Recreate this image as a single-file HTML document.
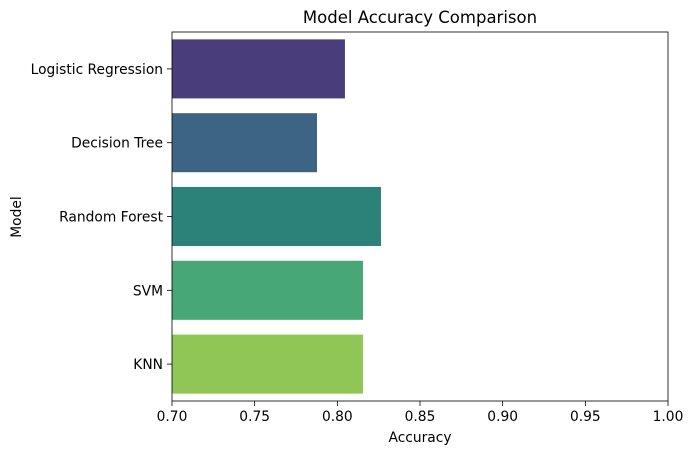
<!DOCTYPE html>
<html><head><meta charset="utf-8"><style>
body{margin:0;background:#fff;}
svg text{font-family:"DejaVu Sans","Liberation Sans",sans-serif;fill:#000;}
</style></head><body>
<svg id="chart" width="693" height="455" xmlns="http://www.w3.org/2000/svg">
<text x="420" y="23" font-size="16.5" text-anchor="middle">Model Accuracy Comparison</text>
<text x="420" y="442" font-size="13.8" text-anchor="middle">Accuracy</text>
<text x="21" y="217" font-size="13.8" text-anchor="middle" transform="rotate(-90 21 217)">Model</text>
<g id="bars"></g><g id="axes"></g>
</svg>
<script>
const categories=["Logistic Regression","Decision Tree","Random Forest","SVM","KNN"];
const accuracy=[0.8046,0.7877,0.8264,0.8155,0.8155];
const colors=["#493d7c","#3d6483","#2c8279","#47a776","#8fc655"];
const xTicks=[0.70,0.75,0.80,0.85,0.90,0.95,1.00];
const NS="http://www.w3.org/2000/svg";
const L=172,R=668,T=32,B=401,xmin=0.7,xmax=1.0;
const x=v=>L+(v-xmin)/(xmax-xmin)*(R-L);
const band=(B-T)/categories.length;
const bars=document.getElementById('bars'),axes=document.getElementById('axes');
function mk(tag,attrs,parent){const e=document.createElementNS(NS,tag);for(const k in attrs)e.setAttribute(k,attrs[k]);parent.appendChild(e);return e;}
categories.forEach((c,i)=>{
  const cy=T+band*(i+0.5);
  const r=mk('rect',{x:L,y:cy-band*0.4,width:x(accuracy[i])-L,height:band*0.8,fill:colors[i]},bars);
  
  
  mk('line',{x1:L-5,x2:L,y1:cy,y2:cy,stroke:'#000','stroke-width':0.8},axes);
  const t=mk('text',{x:L-9,y:cy+5,'font-size':13.8,'text-anchor':'end'},axes);
  t.textContent=c;
  
  
});
xTicks.forEach(v=>{
  const px=x(v);
  mk('line',{x1:px,x2:px,y1:B,y2:B+5,stroke:'#000','stroke-width':0.8},axes);
  const t=mk('text',{x:px,y:B+20,'font-size':13.8,'text-anchor':'middle'},axes);
  t.textContent=v.toFixed(2);
  
  
});
const f=mk('rect',{x:L,y:T,width:R-L,height:B-T,fill:'none',stroke:'#000','stroke-width':0.8},axes);


</script>
</body></html>
